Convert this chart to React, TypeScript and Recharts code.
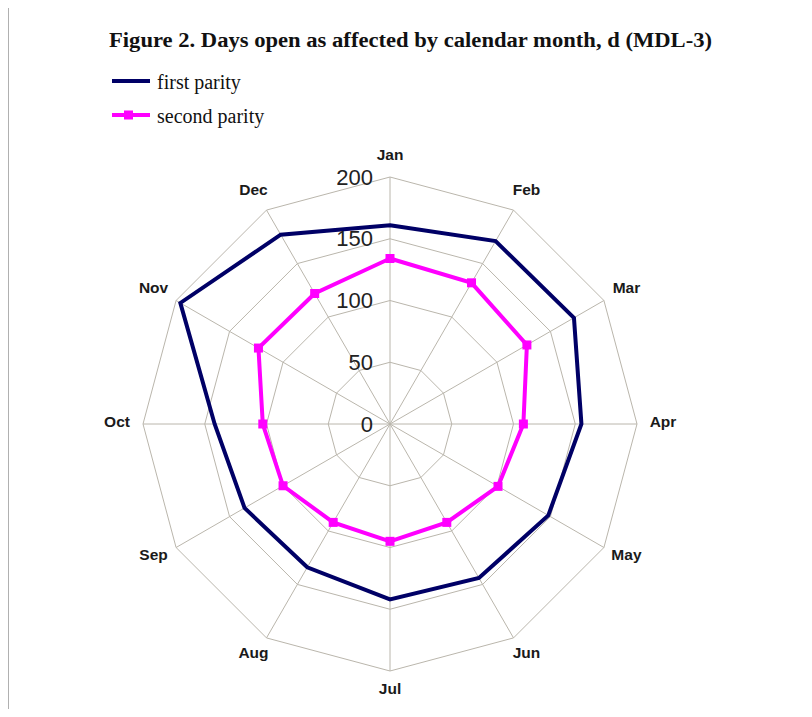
import { RadarChart, Radar, PolarGrid, PolarAngleAxis, PolarRadiusAxis } from 'recharts'

const months = ['Jan', 'Feb', 'Mar', 'Apr', 'May', 'Jun', 'Jul', 'Aug', 'Sep', 'Oct', 'Nov', 'Dec']
const firstParity = [161, 171, 172, 155, 148, 144, 142, 134, 136, 142, 196, 177]
const secondParity = [134, 132, 128, 108, 101, 92, 95, 92, 100, 103, 123, 122]
const radiusTicks = [0, 50, 100, 150, 200]

const data = months.map((m, i) => ({ month: m, first: firstParity[i], second: secondParity[i] }))

const CX = 390
const CY = 424
const R = 247

function AngleTick(props: any) {
  const { x, y, payload } = props
  const dx = x - CX
  const dy = y - CY
  const len = Math.hypot(dx, dy) || 1
  const c = dx / len
  const s = dy / len
  const px = CX + c * (R + 26)
  const py = CY + s * (R + 20) - 3
  return (
    <text x={px} y={py} textAnchor="middle" dominantBaseline="central"
      fontSize={15.5} fontWeight="bold" fontFamily="Arial, 'Liberation Sans', sans-serif" fill="#1a1a1a">
      {payload.value}
    </text>
  )
}

function RadiusTick(props: any) {
  const { x, y, payload } = props
  return (
    <text x={x - 17} y={y} textAnchor="end" dominantBaseline="central"
      fontSize={22} fontFamily="Arial, 'Liberation Sans', sans-serif" fill="#222">
      {payload.value}
    </text>
  )
}

function SquareDot(props: any) {
  const { cx, cy } = props
  return <rect x={cx - 4.5} y={cy - 4.5} width={9} height={9} fill="#ff00ff" />
}

export default function App() {
  return (
    <div style={{ position: 'relative', width: 812, height: 717, margin: -8, overflow: 'hidden', background: '#fff' }}>
      <div style={{ position: 'absolute', left: 7, top: 4, width: 820, height: 730, borderTop: '2px solid #b0b0b0', borderLeft: '2px solid #b0b0b0' }} />
      <svg width={812} height={140} style={{ position: 'absolute', left: 0, top: 0 }}>
        <text x={109} y={47} textLength={603} lengthAdjust="spacingAndGlyphs"
          fontSize={20} fontWeight="bold" fontFamily="'Times New Roman', 'Liberation Serif', serif" fill="#111">
          Figure 2. Days open as affected by calendar month, d (MDL-3)
        </text>
        <line x1={112} y1={81} x2={150} y2={81} stroke="#000066" strokeWidth={4} />
        <text x={157} y={89} fontSize={20} fontFamily="'Times New Roman', 'Liberation Serif', serif" fill="#111">first parity</text>
        <line x1={112} y1={115} x2={150} y2={115} stroke="#ff00ff" strokeWidth={4} />
        <rect x={124} y={110.5} width={9} height={9} fill="#ff00ff" />
        <text x={157} y={123} fontSize={20} fontFamily="'Times New Roman', 'Liberation Serif', serif" fill="#111">second parity</text>
      </svg>
      <div style={{ position: 'absolute', left: 0, top: 0 }}>
        <RadarChart width={812} height={717} data={data} cx={CX} cy={CY} outerRadius={R}
          startAngle={90} endAngle={-270} margin={{ top: 0, right: 0, bottom: 0, left: 0 }}>
          <PolarGrid gridType="polygon" stroke="#bab6ac" strokeWidth={1} />
          <PolarAngleAxis dataKey="month" tick={<AngleTick />} tickLine={false} axisLine={false} />
          <PolarRadiusAxis angle={90} domain={[0, 200]} ticks={radiusTicks} tickCount={5}
            tick={<RadiusTick />} axisLine={false} tickLine={false} />
          <Radar name="first parity" dataKey="first" stroke="#000066" strokeWidth={4}
            fill="none" fillOpacity={0} dot={false} isAnimationActive={false} />
          <Radar name="second parity" dataKey="second" stroke="#ff00ff" strokeWidth={4}
            fill="none" fillOpacity={0} dot={<SquareDot />} isAnimationActive={false} />
        </RadarChart>
      </div>
    </div>
  )
}
